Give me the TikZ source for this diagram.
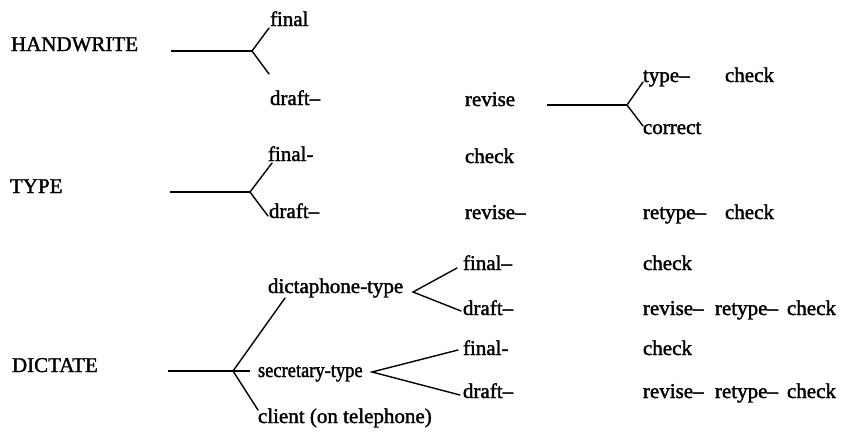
\documentclass[tikz,border=0pt]{standalone}
\usepackage{graphicx}
\usepackage{fontspec}
\setmainfont{Liberation Serif}[FakeBold=1.6]
\begin{document}
\begin{tikzpicture}[x=1pt,y=-1pt,
  lbl/.style={anchor=base west,inner sep=0pt,outer sep=0pt,font=\fontsize{21}{24}\selectfont},
  stem/.style={line width=2.2pt},
  twig/.style={line width=1.4pt,line cap=round}]
\useasboundingbox (0,0) rectangle (866,432);

% ---------- HANDWRITE ----------
\node[lbl] (hw) at (11,51) {HANDWRITE};
\node[lbl] (hwfinal) at (270,26) {final};
\node[lbl] (hwdraft) at (270,105) {draft–};
\node[lbl] (hwrevise) at (465,106) {revise};
\node[lbl] (hwtype) at (643,82) {type–};
\node[lbl] (hwcheck) at (725,82) {check};
\node[lbl] (hwcorrect) at (643,134) {correct};
\coordinate (hwA) at (171,51);
\coordinate (hwF) at (252,51);
\coordinate (hwU) at (269,28);
\coordinate (hwD) at (269,74);
\draw[stem] (hwA) -- (hwF);
\draw[twig] (hwU) -- (hwF) -- (hwD);
\coordinate (rvA) at (547,105);
\coordinate (rvF) at (627,105);
\coordinate (rvU) at (643,82);
\coordinate (rvD) at (643,126);
\draw[stem] (rvA) -- (rvF);
\draw[twig] (rvU) -- (rvF) -- (rvD);

% ---------- TYPE ----------
\node[lbl] (ty) at (10,193) {TYPE};
\node[lbl] (tyfinal) at (268,161) {final-};
\node[lbl] (tydraft) at (269,218) {draft–};
\node[lbl] (tycheck) at (465,163) {check};
\node[lbl] (tyrevise) at (465,219) {revise–};
\node[lbl] (tyretype) at (643,219) {retype–};
\node[lbl] (tycheckb) at (725,219) {check};
\coordinate (tyA) at (170,192);
\coordinate (tyF) at (250,192);
\coordinate (tyU) at (272,163);
\coordinate (tyD) at (268,216);
\draw[stem] (tyA) -- (tyF);
\draw[twig] (tyU) -- (tyF) -- (tyD);

% ---------- DICTATE ----------
\node[lbl] (di) at (12,372) {DICTATE};
\node[lbl] (dict) at (268,293) {dictaphone-type};
\node[lbl] (secr) at (258,377) {\scalebox{0.88}[1]{secretary-type}};
\node[lbl] (clie) at (258,423) {client (on telephone)};
\coordinate (diA) at (168,371);
\coordinate (diB) at (250,371);
\coordinate (diF) at (233,371);
\coordinate (diU) at (285,298);
\coordinate (diD) at (258,410);
\draw[stem] (diA) -- (diB);
\draw[twig] (diU) -- (diF) -- (diD);

% dictaphone branch
\node[lbl] (dcfinal) at (463,270) {final–};
\node[lbl] (dcdraft) at (463,315) {draft–};
\node[lbl] (dccheck) at (643,270) {check};
\node[lbl] (dcrevise) at (643,315) {revise–};
\node[lbl] (dcretype) at (715,315) {retype–};
\node[lbl] (dccheckb) at (787,315) {check};
\coordinate (dcF) at (413,292);
\coordinate (dcU) at (457,268);
\coordinate (dcD) at (461,311);
\draw[twig] (dcU) -- (dcF) -- (dcD);

% secretary branch
\node[lbl] (scfinal) at (463,355) {final-};
\node[lbl] (scdraft) at (463,398) {draft–};
\node[lbl] (sccheck) at (643,355) {check};
\node[lbl] (screvise) at (643,398) {revise–};
\node[lbl] (scretype) at (715,398) {retype–};
\node[lbl] (sccheckb) at (787,398) {check};
\coordinate (scF) at (372,372);
\coordinate (scU) at (458,350);
\coordinate (scD) at (460,395);
\draw[twig] (scU) -- (scF) -- (scD);
\end{tikzpicture}
\end{document}
